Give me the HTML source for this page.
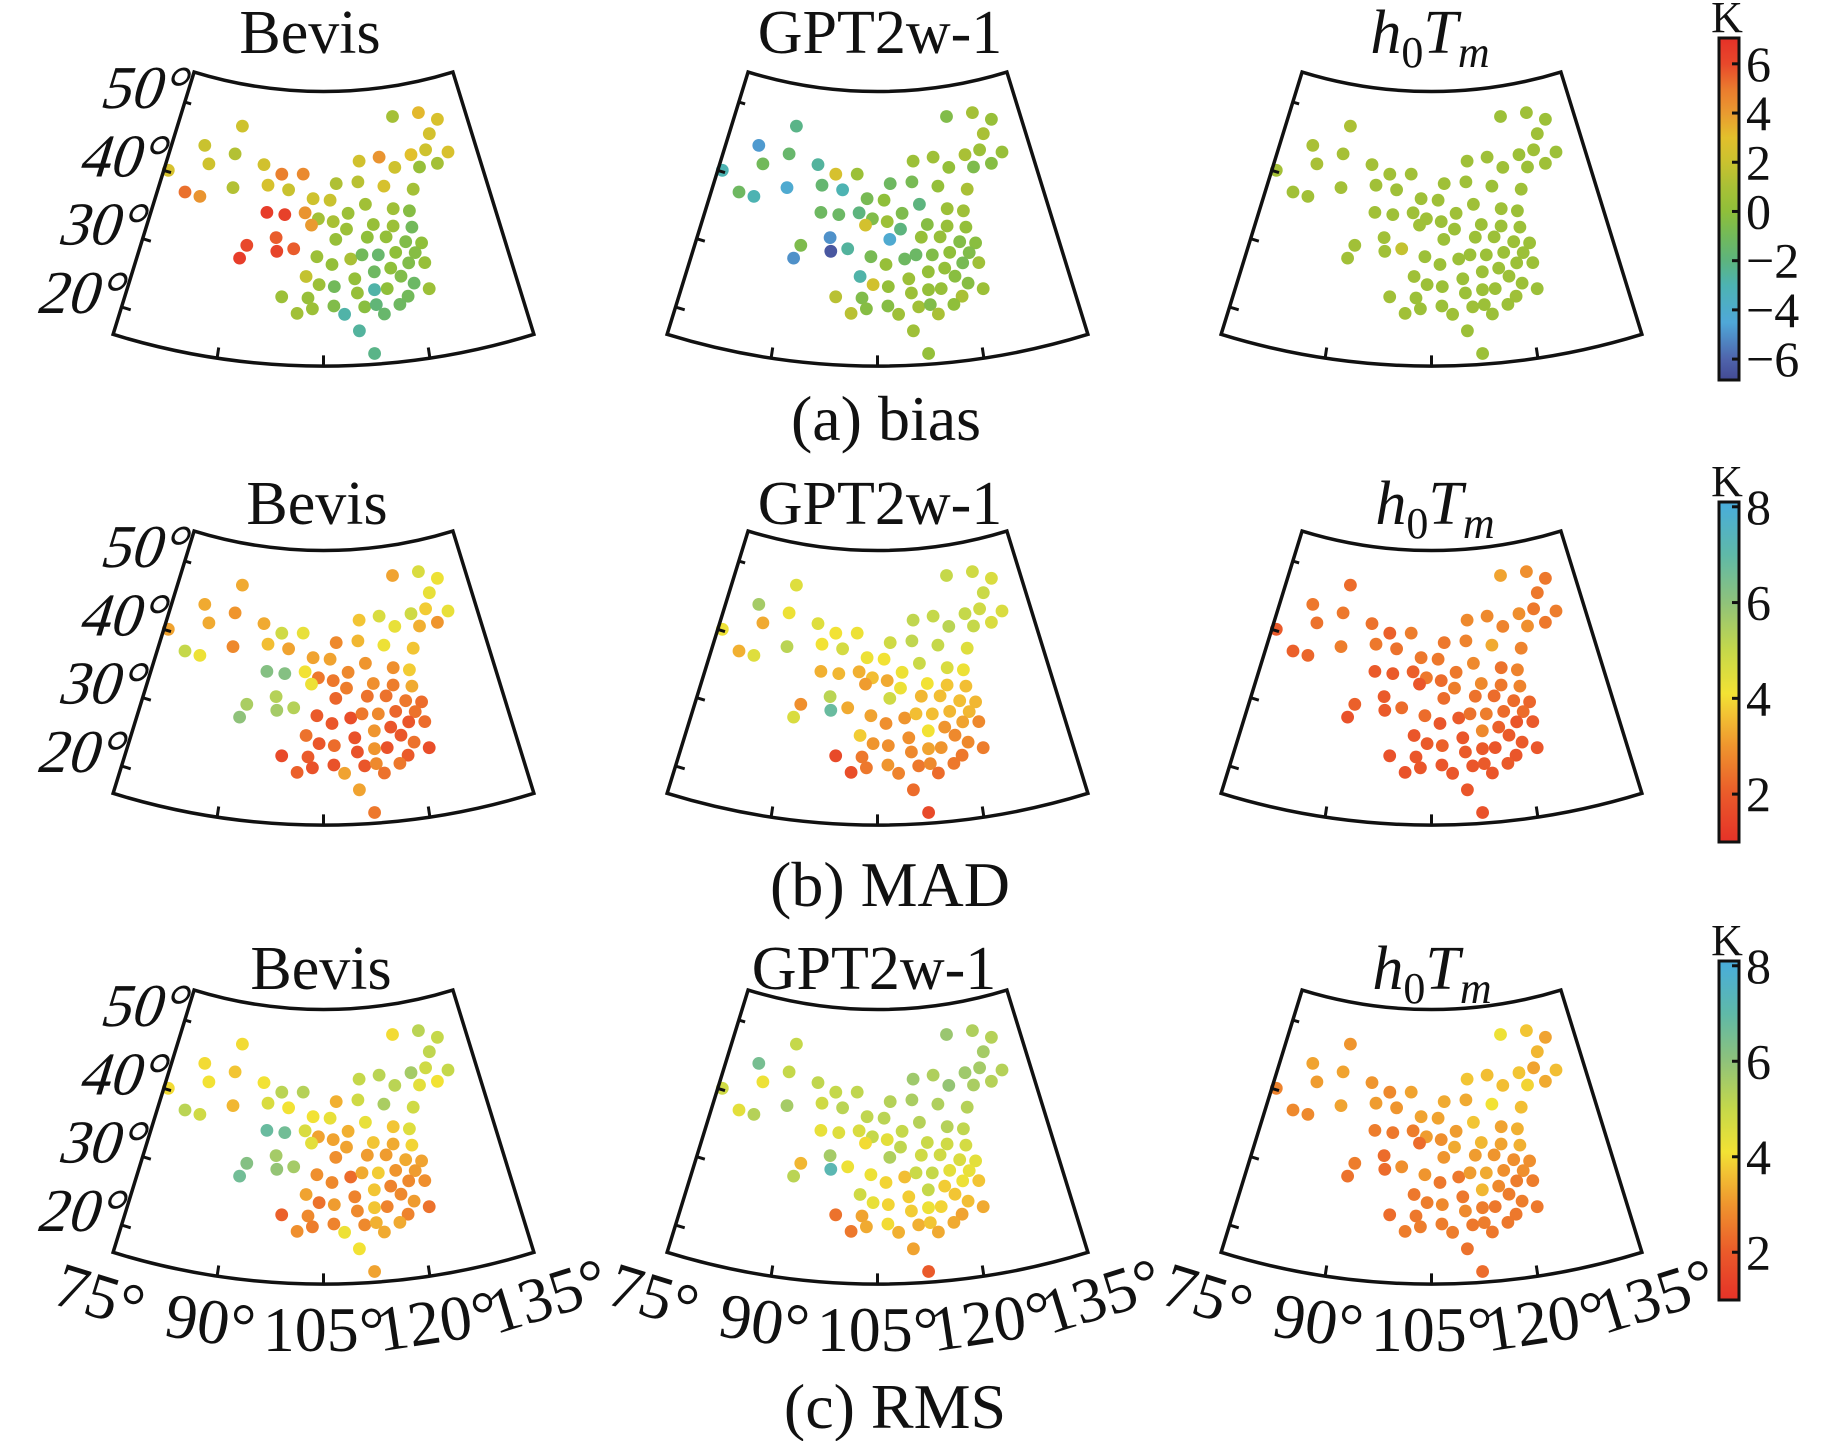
<!DOCTYPE html>
<html><head><meta charset="utf-8"><title>Tm bias/MAD/RMS maps</title>
<style>
html,body{margin:0;padding:0;background:#fff;}
svg{display:block;font-family:"Liberation Serif",serif;}
</style></head>
<body>
<svg id="fig" width="1843" height="1441" viewBox="0 0 1843 1441" xmlns="http://www.w3.org/2000/svg">
<defs></defs>
<g id="panels"></g>
<g id="texts" fill="#111">
<text x="886" y="440" font-size="64" text-anchor="middle">(a) bias</text>
<text x="890" y="906" font-size="64" text-anchor="middle">(b) MAD</text>
<text x="895" y="1428" font-size="64" text-anchor="middle">(c) RMS</text>
</g>
</svg>
<script>
const lon=[119.8,125.4,129.0,126.7,129.5,125.3,122.3,127.0,123.5,118.8,116.0,112.0,121.6,116.3,111.5,107.4,88.0,81.3,87.5,82.9,75.8,79.8,82.6,88.2,93.4,97.0,101.1,94.6,98.5,103.1,106.2,112.6,117.5,120.3,94.9,98.1,101.7,104.1,106.7,109.4,102.9,109.0,113.7,117.1,120.3,107.1,112.5,115.7,118.9,121.5,96.9,92.1,97.2,100.0,91.2,103.9,109.5,111.4,114.1,117.0,120.2,106.4,118.9,121.5,113.2,115.9,110.0,117.4,102.2,104.3,106.7,113.0,115.0,119.3,121.5,98.5,102.6,110.3,118.1,103.3,106.6,111.3,113.1,116.7,101.0,108.2,114.2,110.3,112.3];
const lat=[50.2,50.1,48.6,46.9,43.8,44.8,44.5,42.6,42.6,43.1,44.8,44.5,39.7,40.7,41.6,41.5,48.6,44.9,44.6,42.5,40.2,37.9,37.8,39.9,43.7,42.6,42.8,40.9,40.5,39.4,39.2,38.4,37.4,36.8,37.1,37.0,37.4,36.6,36.2,37.3,35.7,35.1,35.5,35.0,34.5,33.7,33.8,33.6,32.6,32.1,33.7,32.2,31.8,32.3,30.3,31.3,30.9,31.4,31.2,31.3,30.9,30.2,29.6,29.3,28.9,29.2,28.1,27.9,28.5,27.4,27.1,26.4,26.4,26.7,25.6,25.5,25.5,26.1,25.0,24.0,24.4,24.1,24.3,24.0,23.3,23.2,22.9,20.8,17.5];
const biasBevis=[0.8,3.2,2.6,2.4,2.6,2.2,3,0.8,0.3,2.2,4.2,2.3,0.8,2.5,1.5,1.2,2.2,2,1.3,2.2,2.5,5.2,4.2,1.3,2.3,4.8,4.5,2.5,2,2.2,2,0.7,0.6,-0.3,6.5,6.3,4.2,0.8,1,0.5,4,0.5,0.3,0.5,-1,0.3,0,0.2,-0.5,0,5.6,6,6.2,5.6,6.5,0.5,1,-1,-1.5,0,-0.3,0.2,-0.5,0.3,-1.2,0,0.2,-0.5,1.8,0.5,-1,-2.8,0,-1.3,0.5,0.5,0.3,0.3,-1,0.5,-0.5,-0.2,-1.8,-1.2,0.7,-2.8,-1.5,-2.6,-2.2];
const biasGPT=[-0.5,0.8,0.3,1,0.3,0.5,1,-0.3,-0.6,0.2,0.6,0.5,1,0.2,-0.8,-1.2,-2.2,-4.8,-1.5,-1,-3,-1.2,-3,-4.2,-2.6,2.5,0.5,-1.6,-3,-0.8,0,-2,0.5,0.6,-1.2,-1.3,-2,-0.5,0.5,-0.6,2.4,-2,-0.3,0.3,0.2,-4.2,0.3,0.3,-0.4,-0.2,-5,-0.6,-6.5,-2.6,-5,-0.8,-1.2,-1.3,-0.5,0,-0.5,0.3,-0.8,0.6,0.2,0.2,0.5,-0.2,-2.8,2.3,0.2,0.2,0.3,-0.3,0.5,1.5,-0.5,0.5,1,-0.3,-0.3,0.7,-0.5,0,1.5,0.6,1,0.6,0.2];
const biasH0=[0.5,0.6,0.5,0.6,0.5,0.6,0.5,0.6,0.5,0.6,0.6,0.6,0.6,0.5,0.6,0.6,1.1,1.0,0.9,1.0,0.8,0.7,0.7,0.8,0.8,0.7,0.7,0.7,0.6,0.6,0.6,0.6,0.6,0.5,0.7,0.6,0.6,0.6,0.5,0.6,0.6,0.5,0.5,0.5,0.5,0.5,0.5,0.5,0.5,0.5,0.7,0.7,0.7,1.8,0.7,0.5,0.5,0.5,0.5,0.5,0.5,0.5,0.5,0.5,0.5,0.5,0.5,0.5,0.6,0.5,0.5,0.5,0.5,0.5,0.5,0.7,0.5,0.5,0.6,0.5,0.5,0.6,0.5,0.5,0.7,0.6,0.5,0.5,0.5];
const madBevis=[3.2,4.6,4.2,4.3,4.3,3.8,4.8,3.0,3.4,4.3,4.6,3.7,3.7,4.2,3.5,2.8,3.3,3.3,3.0,3.3,3.2,5.0,4.2,2.8,3.3,4.8,4.3,3.6,3.2,3.2,3.2,3.0,2.9,3.8,6.2,6.2,4.1,2.5,2.5,2.8,4.2,2.6,2.9,2.6,3.3,2.2,2.4,2.4,2.5,2.3,5.3,5.5,5.6,5.3,6.0,2.0,1.7,2.5,2.8,2.2,2.4,1.9,1.9,2.3,3.0,1.9,1.8,1.9,2.4,1.9,2.3,3.0,1.8,2.4,1.7,1.6,2.0,1.8,2.0,1.8,1.8,1.9,2.8,2.5,2.1,3.2,2.4,3.2,2.5];
const madGPT=[5.0,4.8,4.6,4.9,4.6,4.8,5.0,4.6,5.0,5.2,5.0,5.1,4.5,5.0,5.1,4.8,4.5,5.6,4.2,3.3,4.2,3.4,4.5,5.2,4.5,4.1,4.2,4.1,4.7,4.2,4.1,4.9,4.6,4.2,3.4,3.5,3.4,3.6,3.3,4.2,3.1,4.2,4.1,3.7,3.6,4.8,3.5,3.6,3.6,3.5,5.2,2.9,6.8,3.3,4.6,3.2,3.0,3.6,3.6,3.5,3.5,2.9,3.2,2.8,4.1,3.0,2.9,2.8,3.8,3.0,2.9,3.2,3.0,2.8,2.6,1.6,2.5,2.8,2.5,2.5,3.0,2.5,2.8,2.5,1.7,2.7,2.3,2.3,1.6];
const madH0=[3.2,2.9,2.5,2.5,2.6,2.5,2.9,2.5,2.9,2.7,2.8,2.8,2.7,3.3,2.7,2.5,2.3,2.5,2.5,2.4,2.0,2.1,2.2,2.6,2.4,2.1,2.6,2.5,2.4,2.5,2.5,2.8,2.4,2.7,2.0,2.0,2.1,2.5,2.3,2.5,1.9,2.6,2.8,2.5,2.7,2.3,2.4,2.3,2.3,2.2,2.0,2.1,2.0,2.3,1.8,2.3,2.0,2.4,2.6,2.3,2.3,1.9,1.9,2.0,2.8,2.1,1.9,2.0,1.9,2.0,2.1,2.0,1.9,2.0,1.9,1.8,1.9,2.0,1.9,1.9,1.9,1.9,2.0,2.0,1.8,1.9,1.9,1.9,1.8];
const rmsBevis=[4.0,5.2,5.0,5.1,5.0,4.8,5.6,4.1,4.4,5.2,5.2,5.0,4.8,5.5,4.8,3.4,4.0,4.0,3.7,4.1,4.0,5.2,4.8,3.5,4.1,5.2,5.3,4.6,4.1,4.1,4.3,4.3,3.7,4.5,6.8,6.6,4.6,3.2,3.2,3.4,4.4,3.2,3.7,3.3,3.9,2.9,3.1,3.1,3.3,3.2,5.6,6.2,5.9,5.6,6.6,2.9,2.3,3.3,3.8,3.0,3.1,2.8,2.8,2.9,3.7,2.7,2.7,2.8,3.2,2.4,3.1,3.7,2.7,3.1,2.4,2.1,2.8,2.8,2.7,2.6,2.7,2.8,3.4,3.3,2.9,4.2,3.3,4.1,3.2];
const rmsGPT=[5.8,5.4,5.3,5.6,5.3,5.6,5.7,5.3,5.5,5.9,5.4,5.7,5.3,5.4,5.5,5.3,5.0,6.5,5.0,4.2,4.8,4.4,5.3,5.6,5.1,5.0,5.1,4.8,5.2,5.1,5.2,5.3,5.3,5.1,4.3,4.5,4.6,5.0,4.4,5.0,4.0,5.1,4.9,4.8,4.7,5.4,4.8,4.8,4.6,4.4,5.6,3.5,7.2,4.2,5.2,4.2,3.6,4.9,5.0,4.4,4.3,3.9,4.2,3.7,5.0,3.8,3.8,3.7,4.8,4.3,3.9,4.2,3.9,3.6,3.3,2.4,3.2,3.8,3.2,3.3,4.0,3.4,3.7,3.3,2.5,3.4,3.3,3.2,2.0];
const rmsH0=[4.2,3.7,3.2,3.5,3.6,3.2,3.7,3.3,3.9,3.6,3.6,3.7,3.6,4.1,3.3,3.3,3.0,3.2,3.2,3.1,2.7,2.8,2.8,3.2,3.0,2.8,3.2,3.1,3.0,3.2,3.2,3.7,3.2,3.4,2.6,2.5,2.6,3.1,2.9,3.1,2.3,3.3,3.5,3.2,3.4,3.0,3.1,3.0,2.9,2.9,2.3,2.6,2.3,2.9,2.4,3.0,2.5,3.1,3.3,2.9,2.9,2.5,2.6,2.6,3.5,2.8,2.5,2.6,2.5,2.6,2.8,2.6,2.5,2.6,2.5,2.3,2.5,2.8,2.5,2.6,2.6,2.5,2.6,2.5,2.6,2.6,2.5,2.4,2.3];
const biasTicks=[6,4,2,0,-2,-4,-6];
const errTicks=[8,6,4,2];
const latTicks=[50,40,30,20];
const lonTicks=[75,90,105,120,135];

const NS="http://www.w3.org/2000/svg";
function mk(tag,attrs,parent){const e=document.createElementNS(NS,tag);for(const k in attrs)e.setAttribute(k,attrs[k]);if(parent)parent.appendChild(e);return e;}
function hex(c){return [parseInt(c.slice(1,3),16),parseInt(c.slice(3,5),16),parseInt(c.slice(5,7),16)];}
function cmapFn(stops){return function(v){if(v<=stops[0][0])return stops[0][1];for(let i=1;i<stops.length;i++){if(v<=stops[i][0]){const a=stops[i-1],b=stops[i];const t=(v-a[0])/(b[0]-a[0]);const ca=hex(a[1]),cb=hex(b[1]);return 'rgb('+ca.map((x,j)=>Math.round(x+(cb[j]-x)*t)).join(',')+')';}}return stops[stops.length-1][1];};}
const biasStops=[[-7,'#434a94'],[-6,'#4f64ac'],[-4.5,'#4fa8d8'],[-3,'#4db3b2'],[-2,'#5db47e'],[-1,'#72b95a'],[0,'#8fbf3a'],[1,'#a9c036'],[2,'#c9c22f'],[3,'#e2c02c'],[4,'#e99a30'],[5,'#ea7a2e'],[6,'#e8482b'],[7,'#e53228']];
const errStops=[[1,'#e53228'],[2,'#ea5a2a'],[3,'#ef952e'],[3.7,'#f2c534'],[4.1,'#f2e234'],[5,'#c5d84a'],[6,'#8fc27a'],[7,'#5fb9a8'],[8,'#4aaed8'],[8.2,'#4aa8d8']];
const biasC=cmapFn(biasStops), errC=cmapFn(errStops);

const CX=323.5, AY=-347, N=0.572, R50=470, PXDEG=7.15;
function rad(la){return R50+(50-la)*PXDEG;}
function proj(lo,la,ox,oy){const th=(lo-105)*N*Math.PI/180;const r=rad(la);return [ox+CX+r*Math.sin(th), oy+AY+r*Math.cos(th)];}

const colX=[0,554,1108], rowY=[0,459,918];
const panelData=[[biasBevis,biasGPT,biasH0],[madBevis,madGPT,madH0],[rmsBevis,rmsGPT,rmsH0]];
const rowNames=['bias','mad','rms'], colNames=['bevis','gpt2w1','h0tm'];
const root=document.getElementById('panels');

for(let r=0;r<3;r++){for(let c=0;c<3;c++){
  const ox=colX[c], oy=rowY[r];
  const g=mk('g',{},root);
  
  
  const tl=proj(75,54.4,ox,oy), tr=proj(135,54.4,ox,oy), bl=proj(75,16,ox,oy), br=proj(135,16,ox,oy);
  const rT=rad(54.4), rB=rad(16);
  const dots=mk('g',{},g);
  
  
  const vals=panelData[r][c];
  for(let i=0;i<lon.length;i++){
    const p=proj(lon[i],lat[i],ox,oy);
    const col=r===0?biasC(vals[i]):errC(vals[i]);
    const d=mk('circle',{cx:p[0].toFixed(1),cy:p[1].toFixed(1),r:6.4,fill:col},dots);
    
    
  }
  const frame=mk('path',{d:`M${tl[0]},${tl[1]} L${bl[0]},${bl[1]} A${rB},${rB} 0 0 0 ${br[0]},${br[1]} L${tr[0]},${tr[1]} A${rT},${rT} 0 0 1 ${tl[0]},${tl[1]} Z`,fill:'none',stroke:'#111','stroke-width':3.5,'stroke-linejoin':'miter'},g);
  
  
  latTicks.forEach(L=>{const a=proj(75,L,ox,oy),b=proj(76.4,L,ox,oy);const t=mk('line',{x1:a[0],y1:a[1],x2:b[0],y2:b[1],stroke:'#111','stroke-width':3},g);
    if(c===0){const ax=(a[0]-1).toFixed(1), ay=(a[1]+6).toFixed(1);
      const tx=mk('text',{x:ax,y:ay,'font-size':61,'text-anchor':'end',fill:'#111'},g);
      
      tx.setAttribute('transform',`translate(${ax},${ay}) skewX(-17) translate(${-ax},${-ay})`);
      tx.textContent=L+'°';}
  });
  [90,105,120].forEach(Lo=>{const a=proj(Lo,16,ox,oy),b=proj(Lo,17.5,ox,oy);const t=mk('line',{x1:a[0],y1:a[1],x2:b[0],y2:b[1],stroke:'#111','stroke-width':3},g);});
  if(r===2){lonTicks.forEach(Lo=>{const th=(Lo-105)*N;const rr=rB+47;const a=[ox+CX+rr*Math.sin(th*Math.PI/180),oy+AY+rr*Math.cos(th*Math.PI/180)];
    const tx=mk('text',{x:a[0].toFixed(1),y:(a[1]+20).toFixed(1),'font-size':64,'text-anchor':'middle',fill:'#111',transform:`rotate(${(-th).toFixed(1)} ${a[0].toFixed(1)} ${a[1].toFixed(1)})`},g);
    tx.textContent=Lo+'°';});}
}}

const titleX=[[310,880,1430],[317,880,1435],[321,874,1432]], titleY=[53,524,989];
for(let r=0;r<3;r++){for(let c=0;c<3;c++){
  const t=mk('text',{x:titleX[r][c],y:titleY[r],'font-size':62,'text-anchor':'middle',fill:'#111'},root);
  
  
  if(c===0)t.textContent='Bevis';
  else if(c===1)t.textContent='GPT2w-1';
  else{mk('tspan',{'font-style':'italic'},t).textContent='h';
       mk('tspan',{dy:14,'font-size':44},t).textContent='0';
       mk('tspan',{dy:-14,'font-style':'italic'},t).textContent='T';
       mk('tspan',{dy:14,'font-size':44,'font-style':'italic'},t).textContent='m';}
}}

const cbDefs=[{y0:38,y1:380,vmin:-6.85,vmax:7.05,ticks:biasTicks,stops:biasStops,name:'colorbar-bias'},
              {y0:502,y1:842,vmin:1.0,vmax:8.1,ticks:errTicks,stops:errStops,name:'colorbar-mad'},
              {y0:961,y1:1300,vmin:1.0,vmax:8.1,ticks:errTicks,stops:errStops,name:'colorbar-rms'}];
cbDefs.forEach(cb=>{
  const g=mk('g',{},root);
  
  
  const gid='grad_'+cb.name;
  const lg=mk('linearGradient',{id:gid,x1:0,y1:cb.y1,x2:0,y2:cb.y0,gradientUnits:'userSpaceOnUse'},document.querySelector('defs'));
  cb.stops.forEach(s=>{mk('stop',{offset:Math.max(0,Math.min(1,(s[0]-cb.vmin)/(cb.vmax-cb.vmin))).toFixed(4),'stop-color':s[1]},lg);});
  const rect=mk('rect',{x:1719,y:cb.y0,width:20,height:cb.y1-cb.y0,fill:`url(#${gid})`,stroke:'#111','stroke-width':3},g);
  
  
  const k=mk('text',{x:1727,y:cb.y0-6,'font-size':44,'text-anchor':'middle',fill:'#111'},g);
  
  
  k.textContent='K';
  cb.ticks.forEach(v=>{const y=cb.y1-(v-cb.vmin)/(cb.vmax-cb.vmin)*(cb.y1-cb.y0);
    const t=mk('line',{x1:1732,y1:y,x2:1739,y2:y,stroke:'#111','stroke-width':3},g);
    
    const tx=mk('text',{x:1746,y:(y+17).toFixed(1),'font-size':50,fill:'#111'},g);
    
    tx.textContent=v<0?('\u2212'+Math.abs(v)):String(v);});
});
</script>
</body></html>
